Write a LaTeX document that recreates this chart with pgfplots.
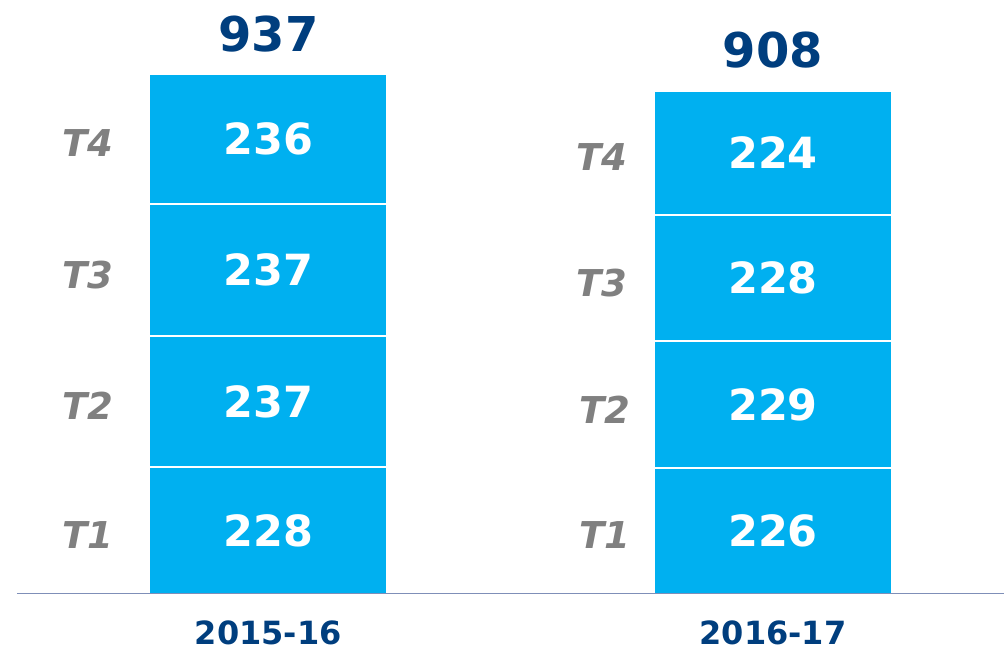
\documentclass[border=0pt]{standalone}
\usepackage{pgfplots}
\usepackage{pgfplotstable}
\pgfplotsset{compat=1.18}
\usepackage{fontspec}
\setmainfont{DejaVu Sans}
\definecolor{barcyan}{HTML}{00B0F0}
\definecolor{darkblue}{HTML}{003E7E}
\definecolor{tgray}{HTML}{808080}
\definecolor{basecol}{HTML}{7F8FB8}

\pgfplotstableread{
x T1 T2 T3 T4
268.5 228 237 237 236
773.5 226 229 228 224
}\bars

\pgfplotstableread{
x y lab
268.5 114 228
268.5 346.5 237
268.5 583.5 237
268.5 820 236
773.5 113 226
773.5 340.5 229
773.5 569 228
773.5 795 224
}\inner

\pgfplotstableread{
x y lab
88 106 T1
88 338 T2
88 575 T3
88 812 T4
605 105 T1
605 332 T2
602 561 T3
602 787 T4
}\tlabs

\pgfplotstableread{
x y lab
268.5 1010 937
773.5 981 908
}\totals

\pgfplotstableread{
x y lab
268.5 -71 2015-16
773.5 -71 2016-17
}\years

\pgfplotsset{base/.style={
  scale only axis, width=1005pt, height=651pt,
  xmin=0, xmax=1005, ymin=-102.8, ymax=1070.8,
  hide axis, clip=false}}

\begin{document}
\begin{tikzpicture}
\begin{axis}[base, ybar stacked, bar width=238pt]
\path (rel axis cs:0,0) rectangle (rel axis cs:1,1);
\addplot[fill=barcyan, draw=white, line width=2pt] table[x=x,y=T1]{\bars};
\addplot[fill=barcyan, draw=white, line width=2pt] table[x=x,y=T2]{\bars};
\addplot[fill=barcyan, draw=white, line width=2pt] table[x=x,y=T3]{\bars};
\addplot[fill=barcyan, draw=white, line width=2pt] table[x=x,y=T4]{\bars};
\end{axis}
\begin{axis}[base]
\draw[color=basecol, line width=1.3pt] (axis cs:17,0) -- (axis cs:1005,0);
\addplot[only marks, mark=none, nodes near coords, point meta=explicit symbolic,
  every node near coord/.style={anchor=center, inner sep=0pt, text=white,
  font=\fontsize{43}{43}\selectfont\bfseries}] table[x=x,y=y,meta=lab]{\inner};
\addplot[only marks, mark=none, nodes near coords, point meta=explicit symbolic,
  every node near coord/.style={anchor=center, inner sep=0pt, text=tgray,
  font=\fontsize{37}{37}\selectfont\bfseries\itshape}] table[x=x,y=y,meta=lab]{\tlabs};
\addplot[only marks, mark=none, nodes near coords, point meta=explicit symbolic,
  every node near coord/.style={anchor=center, inner sep=0pt, text=darkblue,
  font=\fontsize{48}{48}\selectfont\bfseries}] table[x=x,y=y,meta=lab]{\totals};
\addplot[only marks, mark=none, nodes near coords, point meta=explicit symbolic,
  every node near coord/.style={anchor=center, inner sep=0pt, text=darkblue,
  font=\fontsize{32}{32}\selectfont\bfseries}] table[x=x,y=y,meta=lab]{\years};
\end{axis}
\end{tikzpicture}
\end{document}
